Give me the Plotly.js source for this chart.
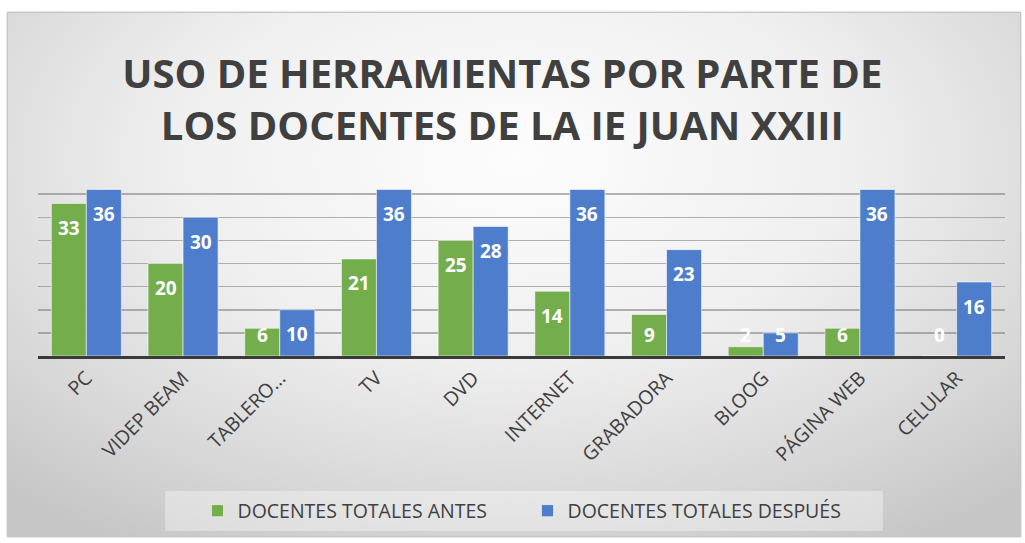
<!DOCTYPE html>
<html>
<head>
<meta charset="utf-8">
<script src="https://cdn.plot.ly/plotly-3.0.1.min.js"></script>
<style>
  html, body { margin: 0; padding: 0; background: #ffffff; }
  #frame {
    position: absolute; left: 7px; top: 12px; width: 1012px; height: 523px;
    background: radial-gradient(ellipse 75% 85% at 50% 28%, #fdfdfd 0%, #efefef 45%, #d6d6d6 80%, #c6c6c6 100%);
    border: 1px solid #c4c4c4;
    box-shadow: 0 0 2px rgba(0,0,0,0.25);
  }
  #chart { position: absolute; left: 0; top: 0; width: 1025px; height: 543px; }
</style>
</head>
<body>
<div id="frame"></div>
<div id="chart"></div>
<script>
const categories = ['PC', 'VIDEP BEAM', 'TABLERO…', 'TV', 'DVD', 'INTERNET', 'GRABADORA', 'BLOOG', 'PÁGINA WEB', 'CELULAR'];
const antes = [33, 20, 6, 21, 25, 14, 9, 2, 6, 0];
const despues = [36, 30, 10, 36, 28, 36, 23, 5, 36, 16];
const seriesNames = ['DOCENTES TOTALES ANTES', 'DOCENTES TOTALES DESPUÉS'];
const yTicks = [0, 5, 10, 15, 20, 25, 30, 35, 40];

const green = '#74ad4c';
const blue = '#4d7dcb';
const bargap = 0.276;
const half = (1 - bargap) / 4;

const traces = [
  { type: 'bar', name: seriesNames[0], x: categories, y: antes,
    marker: { color: green, line: { color: 'rgba(255,255,255,0.7)', width: 0.8 } },
    hoverinfo: 'x+y' },
  { type: 'bar', name: seriesNames[1], x: categories, y: despues,
    marker: { color: blue, line: { color: 'rgba(255,255,255,0.7)', width: 0.8 } },
    hoverinfo: 'x+y' }
];

// value labels: "inside end" style, with a minimum height near the baseline
const annotations = [];
[antes, despues].forEach(function (vals, s) {
  vals.forEach(function (v, i) {
    annotations.push({
      x: i + (s === 0 ? -half : half), xref: 'x',
      y: Math.max(v - 5.3, 4.5), yref: 'y',
      text: String(v), showarrow: false,
      xanchor: 'center', yanchor: 'middle',
      font: { family: 'Open Sans, sans-serif', size: 19, color: '#ffffff', weight: 'bold' }
    });
  });
});

const layout = {
  width: 1025, height: 543,
  paper_bgcolor: 'rgba(0,0,0,0)', plot_bgcolor: 'rgba(0,0,0,0)',
  margin: { l: 38, r: 20, t: 171, b: 187 },
  title: {
    text: '<b>USO DE HERRAMIENTAS POR PARTE DE<br>LOS DOCENTES DE LA IE JUAN XXIII</b>',
    x: 0.49, xref: 'container', xanchor: 'center',
    y: 1 - 88 / 543, yref: 'container', yanchor: 'top',
    font: { family: 'Open Sans, sans-serif', size: 40, color: '#404040' }
  },
  barmode: 'group', bargap: bargap, bargroupgap: 0,
  xaxis: {
    type: 'category', range: [-0.5, 9.5],
    tickangle: -45, ticks: '', showgrid: false,
    showline: true, linecolor: '#3a3a3a', linewidth: 3,
    tickfont: { family: 'Open Sans, sans-serif', size: 19.5, color: '#404040' },
    fixedrange: true
  },
  yaxis: {
    range: [0, 40], tickvals: yTicks, showticklabels: false, ticks: '',
    showgrid: true, gridcolor: 'rgba(120,120,120,0.55)', gridwidth: 1.5,
    zeroline: false, showline: false, fixedrange: true
  },
  showlegend: true,
  legend: {
    orientation: 'h', x: 527.5 / 1025, xref: 'container', xanchor: 'center',
    y: 1 - 511 / 543, yref: 'container', yanchor: 'middle',
    bgcolor: 'rgba(0,0,0,0)', borderwidth: 0,
    entrywidth: 285, entrywidthmode: 'pixels',
    font: { family: 'Open Sans, sans-serif', size: 19.5, color: '#404040' }
  },
  shapes: [{
    type: 'rect', xref: 'paper', yref: 'paper', layer: 'below',
    x0: (165 - 38) / 967, x1: (883 - 38) / 967,
    y0: (356 - 531) / 185, y1: (356 - 491) / 185,
    fillcolor: 'rgba(255,255,255,0.35)', line: { width: 0 }
  }],
  annotations: annotations
};

Plotly.newPlot('chart', traces, layout, { displayModeBar: false, staticPlot: true });
</script>
</body>
</html>
